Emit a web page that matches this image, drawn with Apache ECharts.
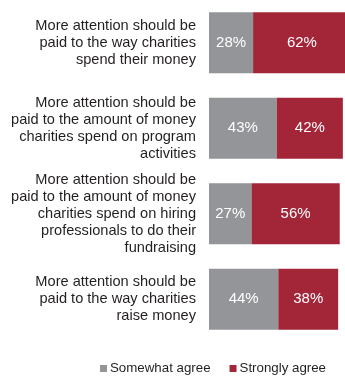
<!DOCTYPE html>
<html><head><meta charset="utf-8">
<script src="https://cdn.jsdelivr.net/npm/echarts@6/dist/echarts.min.js"></script>
<style>html,body{margin:0;padding:0;background:#fff}#c{width:345px;height:381px}</style>
</head><body><div id="c"></div>
<script>
var categories = [
  "More attention should be\npaid to the way charities\nspend their money",
  "More attention should be\npaid to the amount of money\ncharities spend on program\nactivities",
  "More attention should be\npaid to the amount of money\ncharities spend on hiring\nprofessionals to do their\nfundraising",
  "More attention should be\npaid to the way charities\nraise money"
];
var seriesNames = ["Somewhat agree", "Strongly agree"];
var somewhatAgree = [28, 43, 27, 44];
var stronglyAgree = [62, 42, 56, 38];
var colors = ["#939598", "#A32638"];

var chart = echarts.init(document.getElementById('c'), null, {renderer: 'canvas'});
var font = "'Liberation Sans', Arial, sans-serif";
var lbl = {show: true, position: 'inside', color: '#fff', fontSize: 15, fontFamily: font,
  formatter: function(p){ return p.value + '%'; }};
chart.setOption({
  animation: false,
  textStyle: {fontFamily: font},
  grid: {left: 209, top: -4, right: 0, height: 346, containLabel: false},
  xAxis: {type: 'value', min: 0, max: 86.35, show: false},
  yAxis: {type: 'category', inverse: true, data: categories,
    axisLine: {show: false}, axisTick: {show: false}, splitLine: {show: false},
    axisLabel: {margin: 13, color: '#231f20', fontSize: 14.6, lineHeight: 17, fontFamily: font, align: 'right'}},
  legend: {top: 362, left: 100, padding: 0, icon: 'rect', itemWidth: 7, itemHeight: 7, itemGap: 19,
    textStyle: {fontSize: 13.3, color: '#231f20', fontFamily: font, padding: [0,0,0,-2]},
    data: seriesNames},
  series: [
    {name: seriesNames[0], type: 'bar', stack: 's', data: somewhatAgree, barWidth: 61, clip: false,
     itemStyle: {color: colors[0]}, label: lbl},
    {name: seriesNames[1], type: 'bar', stack: 's', data: stronglyAgree, barWidth: 61, clip: false,
     itemStyle: {color: colors[1]}, label: lbl}
  ]
});
</script></body></html>
